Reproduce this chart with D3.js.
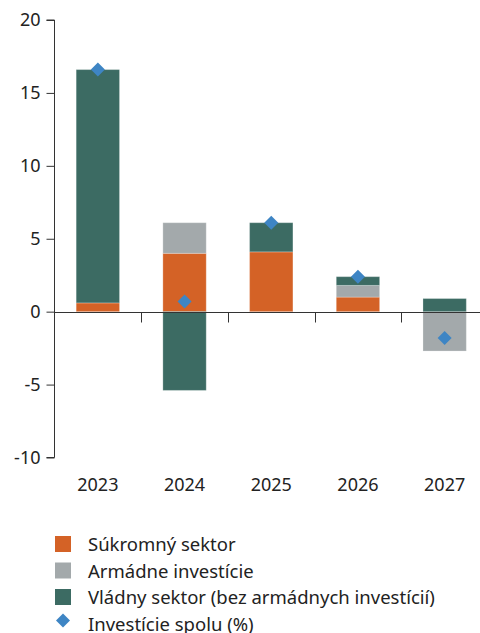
<!DOCTYPE html>
<html>
<head>
<meta charset="utf-8">
<script src="https://cdn.jsdelivr.net/npm/d3@7"></script>
<style>
  html, body { margin: 0; padding: 0; background: #fff; overflow: hidden; }
  svg { display: block; font-family: "Noto Sans", "Open Sans", sans-serif; }
</style>
</head>
<body>
<svg id="chart" width="480" height="633"></svg>
<script>
// Investment growth contributions by component (percentage points)
const years = ["2023", "2024", "2025", "2026", "2027"];
const privateSector = [0.6, 4.0, 4.1, 1.0, 0.0];
const militaryInvestment = [0.0, 2.1, 0.0, 0.8, -2.7];
const governmentSector = [16.0, -5.4, 2.0, 0.6, 0.9];
const totalInvestment = [16.6, 0.7, 6.1, 2.4, -1.8];
const yTicks = [-10, -5, 0, 5, 10, 15, 20];

const seriesNames = ["Súkromný sektor", "Armádne investície", "Vládny sektor (bez armádnych investícií)"];
const seriesColors = ["#d46226", "#a3a9ab", "#3c6b63"];
const diamondName = "Investície spolu (%)";
const diamondColor = "#3e85c4";

const svg = d3.select("#chart");
const y = d3.scaleLinear().domain([-10, 20]).range([457.5, 20]);
const x = d3.scaleBand().domain(years).range([54.5, 488]).paddingInner(0.5).paddingOuter(0.25);

// Stack positives upward and negatives downward from zero
const seriesValues = [privateSector, militaryInvestment, governmentSector];
const rects = [];
years.forEach((yr, i) => {
  let pos = 0, neg = 0;
  seriesValues.forEach((vals, s) => {
    const v = vals[i];
    if (v === 0) return;
    let y0, y1;
    if (v > 0) { y0 = pos; y1 = pos + v; pos = y1; }
    else { y0 = neg; y1 = neg + v; neg = y1; }
    rects.push({ yr, s, y0, y1 });
  });
});

svg.append("g").selectAll("rect").data(rects).join("rect")
  .attr("x", d => x(d.yr))
  .attr("width", x.bandwidth())
  .attr("y", d => y(Math.max(d.y0, d.y1)))
  .attr("height", d => Math.abs(y(d.y0) - y(d.y1)))
  .attr("fill", d => seriesColors[d.s])
  .attr("stroke", "#ffffff")
  .attr("stroke-opacity", 0.25)
  .attr("stroke-width", 1);

// Y axis
const yAxis = svg.append("g")
  .attr("transform", "translate(54.5,0)")
  .call(d3.axisLeft(y).tickValues(yTicks).tickSize(8).tickPadding(6).tickFormat(d => String(d)));
yAxis.select(".domain").attr("stroke", "#333").attr("d", `M-8,${y(20)}H0V${y(-10)}H-8`);
yAxis.selectAll(".tick line").attr("stroke", "#333");
yAxis.selectAll(".tick text").attr("font-size", 18).attr("fill", "#222")
  .attr("font-family", "'Noto Sans', sans-serif");

// Zero line with ticks at category boundaries
const zeroY = Math.round(y(0)) + 0.5;
svg.append("line").attr("x1", 54.5).attr("x2", 480).attr("y1", zeroY).attr("y2", zeroY)
  .attr("stroke", "#333").attr("stroke-width", 1);
svg.append("g").selectAll("line").data(years.slice(1)).join("line")
  .attr("x1", yr => Math.round(x(yr) - (x.step() - x.bandwidth()) / 2) + 0.5)
  .attr("x2", yr => Math.round(x(yr) - (x.step() - x.bandwidth()) / 2) + 0.5)
  .attr("y1", zeroY).attr("y2", zeroY + 10)
  .attr("stroke", "#333");

// Category labels
svg.append("g").selectAll("text").data(years).join("text")
  .attr("x", d => x(d) + x.bandwidth() / 2)
  .attr("y", 491)
  .attr("text-anchor", "middle")
  .attr("font-size", 18)
  .attr("fill", "#222")
  .text(d => d);

// Total investment markers
const diamond = s => `M0,${-s}L${s},0L0,${s}L${-s},0Z`;
svg.append("g").selectAll("path").data(years).join("path")
  .attr("transform", (d, i) => `translate(${x(d) + x.bandwidth() / 2},${y(totalInvestment[i])})`)
  .attr("d", diamond(7))
  .attr("fill", diamondColor);

// Legend
const legend = svg.append("g").attr("transform", "translate(55,536)");
seriesNames.forEach((name, i) => {
  const g = legend.append("g").attr("transform", `translate(0,${i * 26.5})`);
  g.append("rect").attr("width", 16).attr("height", 16).attr("fill", seriesColors[i]);
  g.append("text").attr("x", 33).attr("y", 15).attr("font-size", 18.5).attr("fill", "#222").text(name);
});
const dg = legend.append("g").attr("transform", `translate(0,${3 * 26.5})`);
dg.append("path").attr("transform", "translate(8,5)").attr("d", diamond(7)).attr("fill", diamondColor);
dg.append("text").attr("x", 33).attr("y", 15).attr("font-size", 18.5).attr("fill", "#222").text(diamondName);
</script>
</body>
</html>
